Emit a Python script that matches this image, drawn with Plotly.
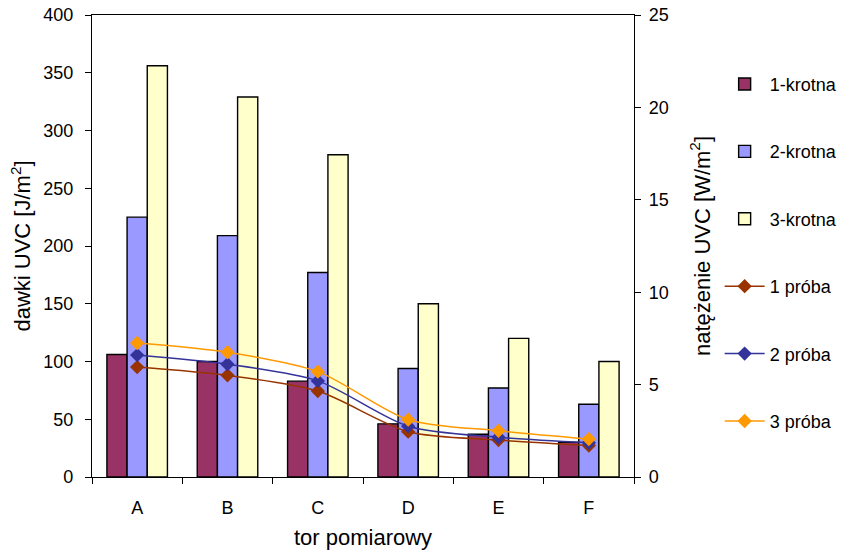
import plotly.graph_objects as go

categories = ["A", "B", "C", "D", "E", "F"]
dose_1x = [106, 100, 83, 46, 37, 30]
dose_2x = [225, 209, 177, 94, 77, 63]
dose_3x = [356, 329, 279, 150, 120, 100]
trial_1 = [5.95, 5.5, 4.65, 2.45, 2.0, 1.7]
trial_2 = [6.6, 6.1, 5.2, 2.75, 2.15, 1.85]
trial_3 = [7.25, 6.75, 5.7, 3.1, 2.5, 2.05]

font = dict(family="Liberation Sans, Arial, sans-serif", size=18, color="#000000")

fig = go.Figure()
bar_specs = [("1-krotna", dose_1x, "#993366"), ("2-krotna", dose_2x, "#9999FF"), ("3-krotna", dose_3x, "#FFFFCC")]
for i, (name, vals, col) in enumerate(bar_specs):
    fig.add_trace(go.Bar(x=categories, y=vals, name=name, legendgroup=f"g{i}",
                         marker=dict(color=col, line=dict(color="#000000", width=1.4))))

line_specs = [("1 próba", trial_1, "#993300"), ("2 próba", trial_2, "#333399"), ("3 próba", trial_3, "#FF9900")]
for i, (name, vals, col) in enumerate(line_specs):
    fig.add_trace(go.Scatter(x=categories, y=vals, name=name, yaxis="y2", legendgroup=f"l{i}",
                             mode="lines+markers", line=dict(color=col, width=1.5, shape="spline", smoothing=0.8),
                             marker=dict(symbol="diamond", size=11, color=col)))

fig.update_layout(
    width=850, height=553,
    margin=dict(l=92, r=216, t=15, b=76, autoexpand=False),
    paper_bgcolor="white", plot_bgcolor="white",
    font=font,
    barmode="group", bargap=0.33, bargroupgap=0,
    xaxis=dict(showline=True, linecolor="#000000", linewidth=1.4, mirror=True, automargin=False,
               ticks="outside", ticklen=6, tickcolor="#000000", tickson="boundaries",
               ticklabelstandoff=14,
               title=dict(text="tor pomiarowy", standoff=12), showgrid=False),
    yaxis=dict(range=[0, 400], dtick=50, showline=True, linecolor="#000000", linewidth=1.4,
               ticks="outside", ticklen=6, tickcolor="#000000", showgrid=False, zeroline=False,
               ticklabelstandoff=8, automargin=False,
               title=dict(text="dawki UVC [J/m<sup>2</sup>]", standoff=6)),
    yaxis2=dict(range=[0, 25], dtick=5, overlaying="y", side="right", showline=True,
                linecolor="#000000", linewidth=1.4, ticks="outside", ticklen=6, tickcolor="#000000",
                showgrid=False, zeroline=False, ticklabelstandoff=4, automargin=False,
                title=dict(text="natężenie UVC [W/m<sup>2</sup>]", standoff=26)),
    legend=dict(x=1.158, xanchor="left", y=0.89, yanchor="top", tracegroupgap=41,
                font=font, bgcolor="rgba(0,0,0,0)", itemwidth=40),
    showlegend=True,
)

fig.write_html("out.html")
